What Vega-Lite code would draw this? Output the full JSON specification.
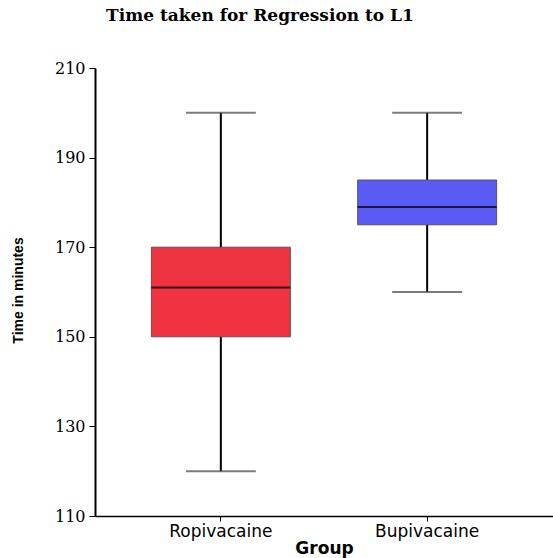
{
  "$schema": "https://vega.github.io/schema/vega-lite/v6.json",
  "autosize": {"type": "none"},
  "width": 458,
  "height": 448,
  "padding": {"left": 95, "top": 68, "right": 0, "bottom": 42},
  "background": "white",
  "title": {
    "text": "Time taken for Regression to L1",
    "font": "DejaVu Serif",
    "fontWeight": "bold",
    "fontSize": 17,
    "color": "black",
    "anchor": "middle",
    "dx": -64,
    "offset": 35
  },
  "data": {
    "values": [
      {"group": "Ropivacaine", "min": 120, "q1": 150, "median": 161, "q3": 170, "max": 200},
      {"group": "Bupivacaine", "min": 160, "q1": 175, "median": 179, "q3": 185, "max": 200}
    ]
  },
  "encoding": {
    "x": {
      "field": "group",
      "type": "nominal",
      "sort": ["Ropivacaine", "Bupivacaine"],
      "scale": {"paddingInner": 0, "paddingOuter": 0.11},
      "axis": {
        "title": "Group",
        "labelAngle": 0,
        "domainColor": "black",
        "domainWidth": 1.5,
        "tickColor": "black",
        "tickSize": 5,
        "labelFont": "DejaVu Sans",
        "labelFontSize": 17,
        "labelColor": "black",
        "labelPadding": 2,
        "titleFont": "DejaVu Sans",
        "titleFontWeight": "bold",
        "titleFontSize": 17,
        "titleColor": "black",
        "titlePadding": 1
      }
    }
  },
  "layer": [
    {
      "mark": {"type": "rule", "color": "black", "strokeWidth": 2},
      "encoding": {
        "y": {
          "field": "min",
          "type": "quantitative",
          "scale": {"domain": [110, 210], "nice": false, "zero": false},
          "axis": {
            "title": "Time in minutes",
            "values": [110, 130, 150, 170, 190, 210],
            "grid": false,
            "domainColor": "black",
            "domainWidth": 2,
            "tickColor": "black",
            "tickSize": 6,
            "labelFont": "DejaVu Serif",
            "labelFontSize": 16,
            "labelColor": "black",
            "labelPadding": 4,
            "titleFont": "Liberation Sans",
            "titleFontWeight": "bold",
            "titleFontSize": 14,
            "titleColor": "black",
            "titleX": -70,
            "titleY": 222
          }
        },
        "y2": {"field": "max"}
      }
    },
    {
      "mark": {"type": "tick", "color": "#444444", "thickness": 2, "size": 70},
      "encoding": {"y": {"field": "min", "type": "quantitative"}}
    },
    {
      "mark": {"type": "tick", "color": "#444444", "thickness": 2, "size": 70},
      "encoding": {"y": {"field": "max", "type": "quantitative"}}
    },
    {
      "mark": {"type": "bar", "size": 139, "stroke": "#555555", "strokeWidth": 1, "opacity": 1},
      "encoding": {
        "y": {"field": "q1", "type": "quantitative"},
        "y2": {"field": "q3"},
        "color": {
          "field": "group",
          "type": "nominal",
          "scale": {"domain": ["Ropivacaine", "Bupivacaine"], "range": ["#EF3340", "#5A5AF5"]},
          "legend": null
        }
      }
    },
    {
      "mark": {"type": "tick", "color": "black", "opacity": 0.75, "thickness": 2, "size": 139},
      "encoding": {"y": {"field": "median", "type": "quantitative"}}
    }
  ],
  "config": {"view": {"stroke": null}}
}
